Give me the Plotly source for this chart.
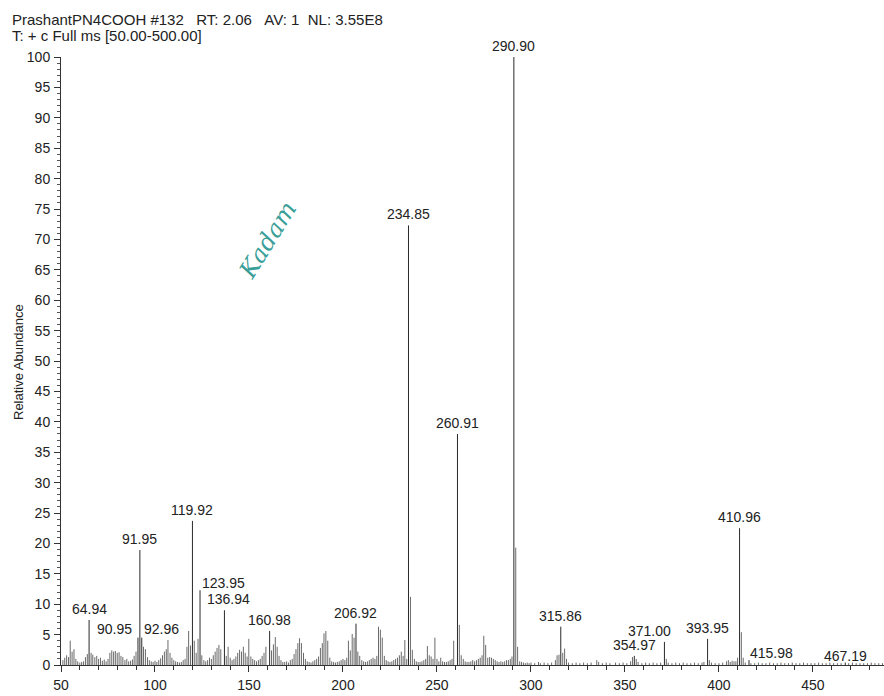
import plotly.graph_objects as go

# ---------------- data ----------------
header_line1 = "PrashantPN4COOH #132\u00a0\u00a0\u00a0RT: 2.06\u00a0\u00a0\u00a0AV: 1\u00a0\u00a0NL: 3.55E8"
header_line2 = "T: + c Full ms [50.00-500.00]"
y_title = "Relative Abundance"

# labelled peaks (m/z, relative abundance)
label_mz = [64.94, 90.95, 91.95, 92.96, 119.92, 123.95, 136.94, 160.98, 206.92,
            234.85, 260.91, 290.90, 315.86, 354.97, 371.00, 393.95, 410.96,
            415.98, 467.19]
label_abund = [7.4, 4.5, 18.9, 4.5, 23.7, 12.3, 9.0, 5.6, 6.8,
               72.3, 38.0, 100.0, 6.3, 1.5, 3.8, 4.3, 22.5,
               0.8, 0.4]

# unlabelled peaks (m/z, relative abundance)
minor_mz = [51.0, 52.0, 53.0, 54.0, 54.9, 55.9, 56.9, 57.9, 58.9, 60.0, 61.0, 62.0, 63.0, 64.0,
            66.0, 66.9, 68.0, 69.0, 70.0, 71.0, 72.0, 73.0, 74.0, 75.0, 76.0, 77.0, 78.0, 78.9,
            79.9, 80.9, 81.9, 82.9, 84.0, 85.0, 86.0, 87.0, 88.0, 88.9, 89.9, 93.9, 94.9, 96.0,
            97.0, 98.0, 99.0, 100.0, 101.0, 102.0, 103.0, 104.0, 105.0, 106.0, 106.9, 108.0,
            109.0, 110.0, 111.0, 112.0, 113.0, 114.0, 115.0, 116.0, 117.0, 117.9, 118.9, 120.9,
            121.9, 122.9, 124.9, 126.0, 127.0, 128.0, 129.0, 130.0, 131.0, 132.0, 133.0, 134.0,
            135.0, 137.9, 138.9, 140.0, 141.0, 142.0, 143.0, 144.0, 145.0, 146.0, 147.0, 148.0,
            149.0, 149.9, 151.0, 152.0, 153.0, 154.0, 155.0, 156.0, 157.0, 158.0, 159.0, 162.0,
            163.0, 164.0, 165.0, 166.0, 167.0, 168.0, 169.0, 170.0, 171.0, 172.0, 173.0, 174.0,
            175.0, 176.0, 176.9, 177.9, 179.0, 180.0, 181.0, 182.0, 183.0, 184.0, 185.0, 186.0,
            187.0, 188.0, 189.0, 189.9, 190.9, 191.9, 193.0, 194.0, 195.0, 196.0, 197.0, 198.0,
            199.0, 200.0, 201.0, 202.0, 202.9, 203.9, 204.9, 205.9, 207.9, 208.9, 210.0, 211.0,
            212.0, 213.0, 214.0, 215.0, 216.0, 217.0, 218.0, 218.9, 219.9, 220.9, 222.0, 223.0,
            224.0, 225.0, 226.0, 227.0, 228.0, 229.0, 230.0, 231.0, 232.0, 232.9, 233.9, 235.9,
            236.9, 238.0, 239.0, 240.0, 241.0, 242.0, 243.0, 244.0, 244.9, 245.9, 246.9, 247.9,
            248.9, 250.0, 251.0, 252.0, 253.0, 254.0, 255.0, 256.0, 257.0, 258.0, 258.9, 261.9,
            262.9, 264.0, 265.0, 266.0, 267.0, 268.0, 269.0, 270.0, 271.0, 272.0, 273.0, 274.0,
            274.9, 275.9, 277.0, 278.0, 279.0, 280.0, 281.0, 282.0, 283.0, 284.0, 285.0, 286.0,
            287.0, 288.0, 289.0, 289.9, 291.9, 292.9, 294.0, 295.0, 296.0, 297.0, 298.0, 299.0,
            300.0, 302.0, 304.0, 305.0, 307.0, 309.0, 311.0, 313.0, 313.9, 314.9, 316.9, 317.9,
            318.9, 320.0, 322.0, 324.0, 326.0, 328.0, 330.0, 332.0, 335.0, 336.0, 338.0, 340.0,
            342.0, 345.0, 347.0, 349.0, 351.0, 353.0, 354.0, 356.0, 357.0, 359.0, 361.0, 363.0,
            365.0, 367.0, 369.0, 372.0, 373.0, 375.0, 377.0, 379.0, 381.0, 383.0, 385.0, 387.0,
            389.0, 391.0, 392.0, 394.9, 396.0, 398.0, 400.0, 402.0, 404.0, 405.0, 406.0, 407.0,
            408.0, 409.0, 409.9, 411.9, 412.9, 414.0, 417.0, 419.0, 421.0, 423.0, 425.0, 427.0,
            429.0, 431.0, 433.0, 435.0, 437.0, 439.0, 441.0, 443.0, 445.0, 447.0, 449.0, 451.0,
            453.0, 455.0, 457.0, 459.0, 461.0, 463.0, 465.0, 469.0, 471.0, 473.0, 475.0, 477.0,
            479.0, 481.0, 483.0, 485.0, 487.0]
minor_abund = [0.8, 1.2, 1.6, 1.3, 4.0, 2.2, 2.6, 1.0, 0.6, 0.4, 0.5, 0.6, 1.3, 1.8,
               2.0, 1.7, 1.3, 1.5, 1.0, 1.2, 0.7, 0.9, 0.6, 1.0, 2.0, 2.4, 2.2, 2.3,
               2.0, 2.1, 1.5, 1.3, 0.8, 1.0, 0.6, 0.7, 0.9, 1.5, 2.2, 3.0, 2.6, 1.3,
               0.8, 0.6, 0.5, 0.7, 0.5, 0.8, 1.1, 1.6, 2.2, 2.6, 4.1, 2.0,
               1.2, 0.8, 0.6, 0.5, 0.4, 0.5, 0.8, 1.0, 3.0, 5.6, 3.2, 4.0,
               2.0, 4.3, 1.6, 0.8, 0.6, 0.8, 1.2, 1.0, 1.6, 2.2, 2.8, 3.3,
               2.6, 1.5, 3.0, 1.2, 0.8, 1.0, 1.4, 2.0, 2.5, 2.2, 3.0, 2.0,
               1.4, 4.3, 1.4, 1.0, 0.8, 0.6, 0.8, 1.0, 1.5, 2.0, 3.0, 2.4,
               3.4, 4.6, 3.0, 1.5, 0.8, 0.5, 0.5, 0.6, 0.4, 0.8, 1.0, 1.8,
               2.6, 3.6, 4.4, 3.6, 2.0, 1.0, 0.6, 0.5, 0.4, 0.6, 0.8, 1.0,
               1.4, 2.8, 3.6, 5.2, 5.6, 4.0, 1.2, 0.6, 0.5, 0.4, 0.5, 0.6,
               0.8, 1.0, 0.8, 1.2, 4.0, 2.4, 5.1, 4.5, 2.2, 1.5, 0.8, 0.6,
               0.5, 0.6, 0.8, 1.0, 1.2, 1.0, 1.5, 6.3, 5.8, 4.5, 1.5, 0.8,
               0.6, 0.5, 0.6, 0.8, 1.0, 1.2, 1.6, 2.2, 1.5, 4.1, 1.0, 11.2,
               2.5, 1.0, 0.6, 0.5, 0.5, 0.6, 0.8, 1.0, 3.1, 1.6, 1.4, 1.0,
               4.5, 1.0, 0.6, 1.2, 0.6, 0.5, 0.5, 0.6, 0.8, 1.0, 4.0, 6.6,
               1.6, 1.0, 0.6, 0.5, 0.5, 0.6, 0.8, 0.6, 0.8, 1.0, 1.2, 1.6,
               4.8, 3.3, 1.2, 1.3, 1.2, 1.0, 0.8, 0.6, 0.5, 0.6, 0.5, 0.6,
               0.8, 0.8, 1.0, 1.4, 19.3, 3.0, 0.6, 0.5, 0.4, 0.3, 0.4, 0.3,
               0.4, 0.3, 0.5, 0.3, 0.4, 0.3, 0.4, 0.8, 1.6, 1.7, 2.0, 2.7,
               1.0, 0.4, 0.3, 0.4, 0.3, 0.4, 0.3, 0.4, 0.8, 0.5, 0.3, 0.4,
               0.3, 0.4, 0.3, 0.4, 0.3, 0.6, 1.3, 1.0, 0.5, 0.3, 0.4, 0.3,
               0.4, 0.3, 0.4, 1.0, 0.4, 0.3, 0.4, 0.3, 0.4, 0.3, 0.3, 0.4,
               0.3, 0.4, 0.5, 0.8, 0.4, 0.3, 0.3, 0.4, 0.6, 0.8, 0.5, 0.7,
               0.6, 0.6, 1.2, 5.4, 1.2, 0.4, 0.3, 0.3, 0.4, 0.3, 0.3, 0.4,
               0.3, 0.3, 0.4, 0.3, 0.3, 0.4, 0.3, 0.3, 0.4, 0.3, 0.3, 0.3,
               0.4, 0.3, 0.3, 0.4, 0.3, 0.3, 0.3, 0.3, 0.4, 0.3, 0.3, 0.3,
               0.3, 0.4, 0.3, 0.3, 0.3]

x_tick_vals = [50, 100, 150, 200, 250, 300, 350, 400, 450, 500]
y_tick_vals = list(range(0, 101, 5))

signature = "Kadam"

# ---------------- styling ----------------
FONT = "Arial, Liberation Sans, sans-serif"
W, H = 884, 696
ML, MR, MT, MB = 61, 0, 57, 31
X_RANGE = [50, 487.8]

# pixel nudges for labels that sit beside their line (by label index)
label_shift = {1: (-23, -2), 3: (20, -2), 5: (23, -4), 6: (4, 0),
               14: (-15, 0), 17: (23, -4), 18: (0, -4)}


def stems(xs, ys):
    px, py = [], []
    for x, y in zip(xs, ys):
        px += [x, x, None]
        py += [0, y, None]
    return px, py


fig = go.Figure()
mx, my = stems(minor_mz, minor_abund)
fig.add_trace(go.Scatter(x=mx, y=my, mode="lines", hoverinfo="skip",
                         line=dict(color="#6a6a6a", width=1), showlegend=False))
lx, ly = stems(label_mz, label_abund)
fig.add_trace(go.Scatter(x=lx, y=ly, mode="lines", hoverinfo="skip",
                         line=dict(color="#2a2a2a", width=1), showlegend=False))

annotations = []
for i, (m, a) in enumerate(zip(label_mz, label_abund)):
    dx, dy = label_shift.get(i, (0, 0))
    annotations.append(dict(x=m, y=a, xref="x", yref="y", text=f"{m:.2f}",
                            showarrow=False, xanchor="center", yanchor="bottom",
                            xshift=dx, yshift=1 + dy,
                            font=dict(family=FONT, size=14, color="#222")))

pw = W - ML - MR
ph = H - MT - MB


def px2paper(x, y):
    return (x - ML) / pw, (H - MB - y) / ph


hx, hy = px2paper(10, 19)
annotations.append(dict(x=hx, y=hy, xref="paper", yref="paper", text=header_line1,
                        showarrow=False, xanchor="left", yanchor="middle",
                        font=dict(family=FONT, size=15, color="#222")))
hx, hy = px2paper(10, 36)
annotations.append(dict(x=hx, y=hy, xref="paper", yref="paper", text=header_line2,
                        showarrow=False, xanchor="left", yanchor="middle",
                        font=dict(family=FONT, size=15, color="#222")))
tx, ty = px2paper(18, 362)
annotations.append(dict(x=tx, y=ty, xref="paper", yref="paper", text=y_title,
                        showarrow=False, textangle=-90, xanchor="center", yanchor="middle",
                        font=dict(family=FONT, size=13, color="#222")))
sx, sy = px2paper(268, 240)
annotations.append(dict(x=sx, y=sy, xref="paper", yref="paper", text=signature,
                        showarrow=False, textangle=-58, xanchor="center", yanchor="middle",
                        font=dict(family="DejaVu Serif, serif", size=24, color="#3a9e98",
                                  style="italic")))

fig.update_layout(
    width=W, height=H,
    margin=dict(l=ML, r=MR, t=MT, b=MB, pad=0),
    paper_bgcolor="white", plot_bgcolor="white",
    font=dict(family=FONT, size=14, color="#222"),
    annotations=annotations,
    xaxis=dict(range=X_RANGE, tickvals=x_tick_vals, ticks="outside", ticklen=6,
               tickcolor="#333", showline=True, linecolor="#333", linewidth=1,
               showgrid=False, zeroline=False, ticklabelstandoff=1,
               tickfont=dict(family=FONT, size=14, color="#222"),
               minor=dict(dtick=10, tick0=50, ticks="outside", ticklen=4, tickcolor="#333",
                          showgrid=False)),
    yaxis=dict(range=[0, 100], tickvals=y_tick_vals, ticks="outside", ticklen=6,
               tickcolor="#333", showline=True, linecolor="#333", linewidth=1,
               showgrid=False, zeroline=False, ticklabelstandoff=1,
               tickfont=dict(family=FONT, size=14, color="#222"),
               minor=dict(dtick=1, tick0=0, ticks="outside", ticklen=3, tickcolor="#555",
                          showgrid=False)),
)

fig.write_html("out.html", config={"displayModeBar": False},
               post_script="document.body.style.margin='0';document.body.style.overflow='hidden';")
